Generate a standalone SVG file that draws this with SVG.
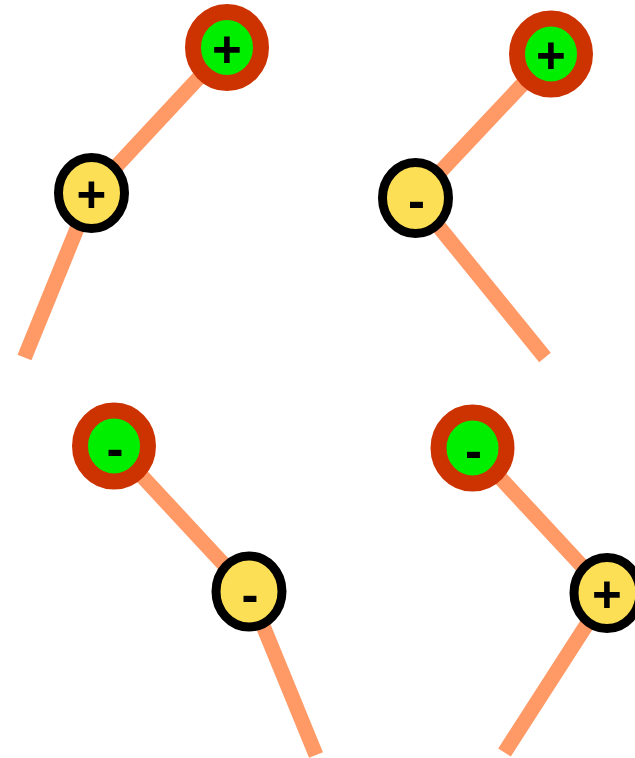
<svg xmlns="http://www.w3.org/2000/svg" width="635" height="758" viewBox="0 0 635 758">
<style>
.edge{fill:none;stroke:#ff9966;stroke-width:15;stroke-linecap:butt;stroke-linejoin:miter}
.root{fill:#00ee00;stroke:#cc3300;stroke-width:16}
.child{fill:#fcdf55;stroke:#000;stroke-width:9}
.lbl{font-family:"Liberation Sans",Arial,sans-serif;font-weight:bold;font-size:51px;text-anchor:middle;fill:#000}
</style>
<rect width="635" height="758" fill="#fff"/>
<g id="connectors">
<polyline class="edge" points="227,47.5 91.5,193 24.5,357.5"/>
<polyline class="edge" points="551,54 415.5,198 545,357.5"/>
<polyline class="edge" points="114,446 249,591.5 316,755"/>
<polyline class="edge" points="472.5,448 607,593 504.5,752.5"/>
</g>
<g id="n1"><ellipse class="root" cx="227" cy="47.5" rx="34" ry="35.5"/><text class="lbl" x="227" y="66.5">+</text></g>
<g id="n2"><ellipse class="child" cx="91.5" cy="193" rx="33" ry="35.5"/><text class="lbl" x="91.5" y="212">+</text></g>
<g id="n3"><ellipse class="root" cx="551" cy="54" rx="34" ry="35.5"/><text class="lbl" x="551" y="73">+</text></g>
<g id="n4"><ellipse class="child" cx="415.5" cy="198" rx="33" ry="35.5"/><text class="lbl" x="416.5" y="218">-</text></g>
<g id="n5"><ellipse class="root" cx="114" cy="446" rx="34" ry="35.5"/><text class="lbl" x="115" y="466">-</text></g>
<g id="n6"><ellipse class="child" cx="249" cy="591.5" rx="33" ry="35.5"/><text class="lbl" x="250" y="611.5">-</text></g>
<g id="n7"><ellipse class="root" cx="472.5" cy="448" rx="34" ry="35.5"/><text class="lbl" x="473.5" y="468">-</text></g>
<g id="n8"><ellipse class="child" cx="607" cy="593" rx="33" ry="35.5"/><text class="lbl" x="607" y="612">+</text></g>
</svg>
